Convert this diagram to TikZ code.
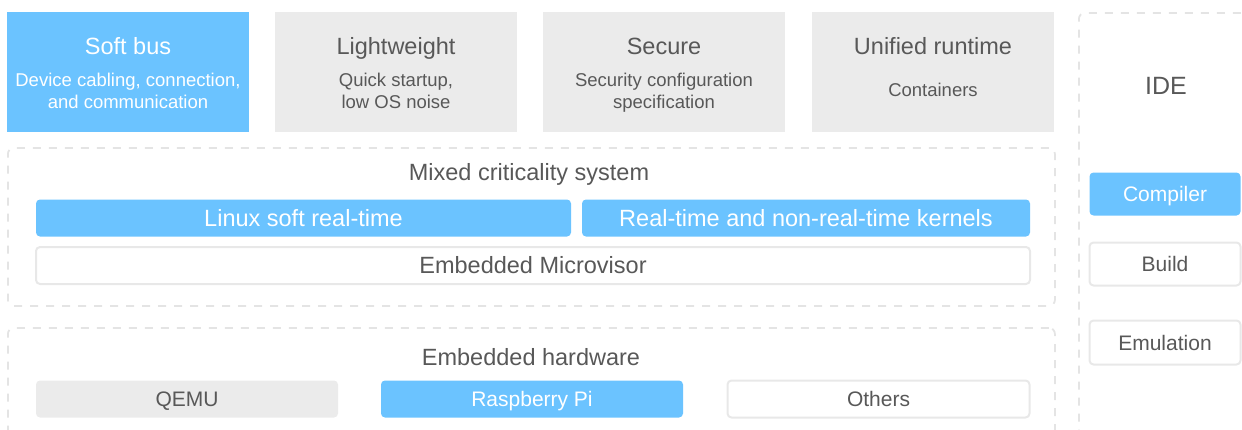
\documentclass[tikz,border=0pt]{standalone}
\usepackage{fontspec}
\setmainfont{Liberation Sans}

\definecolor{skyblue}{RGB}{107,195,255}
\definecolor{panelgrey}{RGB}{235,235,235}
\definecolor{inkgrey}{RGB}{88,88,88}
\definecolor{rimgrey}{RGB}{232,232,232}
\definecolor{dashgrey}{RGB}{228,228,228}

\newcommand{\fsz}[1]{\fontsize{#1}{#1}\selectfont}

\tikzset{
  feature/.style={fill=#1, minimum width=242pt, minimum height=120pt,
    anchor=north west, inner sep=0pt, outer sep=0pt},
  frame/.style={draw=dashgrey, line width=1.8pt, dash pattern=on 8pt off 8pt,
    rounded corners=6pt, anchor=north west, inner sep=0pt},
  tile/.style={rounded corners=4pt, inner sep=0pt, align=center, text depth=0pt},
  bigtext/.style={font=\fsz{23.5}, text height=16.8pt},
  midtext/.style={font=\fsz{21}, text height=15pt},
  bluetile/.style={tile, fill=skyblue, text=white},
  greytile/.style={tile, fill=panelgrey, text=inkgrey},
  whitetile/.style={tile, fill=white, draw=rimgrey, line width=2pt, text=inkgrey},
  caption/.style={anchor=base, inner sep=0pt, text=inkgrey},
}

\begin{document}
\begin{tikzpicture}[x=1pt, y=-1pt]
\useasboundingbox (0,0) rectangle (1242,429);
\clip (0,0) rectangle (1242,429);

% feature row
\node[feature=skyblue]   (softbus) at (7,12) {};
\node[feature=panelgrey] (light)   at (275,12) {};
\node[feature=panelgrey] (secure)  at (543,12) {};
\node[feature=panelgrey] (unified) at (812,12) {};

\node[caption, text=white, font=\fsz{23.5}] (softbusT) at (128,54.4) {Soft bus};
\node[caption, text=white, font=\fsz{18.5}] (softbusA) at (128,86.6) {Device cabling, connection,};
\node[caption, text=white, font=\fsz{18.5}] (softbusB) at (128,108.6) {and communication};

\node[caption, font=\fsz{23.5}] (lightT) at (396,54.4) {Lightweight};
\node[caption, font=\fsz{18.5}] (lightA) at (396,86.6) {Quick startup,};
\node[caption, font=\fsz{18.5}] (lightB) at (396,108.6) {low OS noise};

\node[caption, font=\fsz{23.5}] (secureT) at (664,54.4) {Secure};
\node[caption, font=\fsz{18.5}] (secureA) at (664,86.6) {Security configuration};
\node[caption, font=\fsz{18.5}] (secureB) at (664,108.6) {specification};

\node[caption, font=\fsz{23.5}] (unifiedT) at (933,54.4) {Unified runtime};
\node[caption, font=\fsz{18.5}] (unifiedA) at (933,96.6) {Containers};

% mixed criticality system
\node[frame, minimum width=1047pt, minimum height=158pt] (mixed) at (7,147) {};
\node[caption, font=\fsz{23.5}] (mixedT) at (529,180.4) {Mixed criticality system};
\node[bluetile, bigtext, minimum width=535pt, minimum height=37pt] (linux) at (303.5,218) {Linux soft real-time};
\node[bluetile, bigtext, minimum width=448pt, minimum height=37pt] (rtk) at (806,218) {Real-time and non-real-time kernels};
\node[whitetile, bigtext, minimum width=994pt, minimum height=37pt] (micro) at (533,265.5) {Embedded Microvisor};

% embedded hardware
\node[frame, minimum width=1047pt, minimum height=140pt] (hw) at (7,327) {};
\node[caption, font=\fsz{23.5}] (hwT) at (531,365.4) {Embedded hardware};
\node[greytile, midtext, minimum width=302pt, minimum height=37pt] (qemu) at (187,399) {QEMU};
\node[bluetile, midtext, minimum width=302pt, minimum height=37pt] (rpi) at (532,399) {Raspberry Pi};
\node[whitetile, midtext, minimum width=302pt, minimum height=37pt] (others) at (878.5,399) {Others};

% IDE column
\node[frame, minimum width=200pt, minimum height=460pt] (ide) at (1078,12) {};
\node[caption, font=\fsz{25}] (ideT) at (1166,94) {IDE};
\node[bluetile, midtext, minimum width=151pt, minimum height=43pt] (compiler) at (1165,194) {Compiler};
\node[whitetile, midtext, minimum width=151pt, minimum height=43pt] (build) at (1165,264) {Build};
\node[whitetile, midtext, minimum width=151pt, minimum height=44pt] (emul) at (1165,342.5) {Emulation};
\end{tikzpicture}
\end{document}
